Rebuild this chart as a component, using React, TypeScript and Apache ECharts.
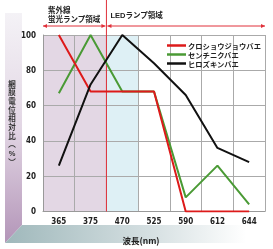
import React, { useEffect, useRef } from "react";
import * as echarts from "echarts";

const categories = ["365", "375", "470", "525", "590", "612", "644"];
const kuroshojo = [100, 68, 68, 68, 0, 0, 0];
const senchiniku = [67, 100, 68, 68, 8, 26, 4];
const hirozukin = [26, 72, 100, 84, 66, 36, 28];
const seriesNames = ["クロショウジョウバエ", "センチニクバエ", "ヒロズキンバエ"];
const yTicks = [0, 20, 40, 60, 80, 100];
const yTitleChars = ["網", "膜", "電", "位", "相", "対", "比", "︵", "%", "︶"];

const CJK = "'Noto Sans CJK JP', sans-serif";
const TIGHT = "'Liberation Sans', 'Noto Sans CJK JP', sans-serif";
const NUM = "'DejaVu Sans Condensed', 'Liberation Sans', sans-serif";

export default function App() {
  const ref = useRef<HTMLDivElement>(null);
  useEffect(() => {
    if (!ref.current) return;
    const chart = echarts.init(ref.current, undefined, { renderer: "svg" });
    const W = 273;
    const option: any = {
      animation: false,
      grid: { left: 43, right: 8, top: 35, bottom: 37 },
      legend: {
        left: 167,
        top: 41,
        orient: "vertical",
        icon: "rect",
        itemGap: 0,
        itemWidth: 19,
        itemHeight: 2.5,
        padding: 0,
        data: seriesNames,
        textStyle: { fontFamily: CJK, fontSize: 7.3, lineHeight: 9, fontWeight: "bold", color: "#222", padding: [0, 0, 0, -3] },
      },
      xAxis: {
        type: "category",
        data: categories,
        boundaryGap: true,
        name: "波長(nm)",
        nameLocation: "middle",
        nameGap: 24,
        nameTextStyle: { fontFamily: CJK, fontSize: 8.5, fontWeight: "bold", color: "#222", padding: [0, 26, 0, 0] },
        axisLine: { lineStyle: { color: "#999" } },
        axisTick: { show: false },
        axisLabel: { fontFamily: NUM, fontSize: 8, fontWeight: "bold", color: "#222", margin: 6 },
        splitLine: { show: true, lineStyle: { color: "#aaa", width: 1 } },
      },
      yAxis: {
        type: "value",
        min: 0,
        max: 100,
        interval: 20,
        axisLine: { show: true, lineStyle: { color: "#999" } },
        axisTick: { show: false },
        axisLabel: {
          fontFamily: NUM,
          fontSize: 8,
          fontWeight: "bold",
          color: "#222",
          margin: 7,
          formatter: (v: number) => (yTicks.includes(v) ? String(v) : ""),
        },
        splitLine: { show: true, lineStyle: { color: "#aaa", width: 1 } },
      },
      series: [
        { name: seriesNames[0], type: "line", data: kuroshojo, showSymbol: false, symbol: "none", z: 4, lineStyle: { color: "#dd1a1a", width: 2 }, itemStyle: { color: "#dd1a1a" } },
        { name: seriesNames[1], type: "line", data: senchiniku, showSymbol: false, symbol: "none", z: 3, lineStyle: { color: "#4a9a35", width: 2 }, itemStyle: { color: "#4a9a35" } },
        { name: seriesNames[2], type: "line", data: hirozukin, showSymbol: false, symbol: "none", z: 5, lineStyle: { color: "#111", width: 2 }, itemStyle: { color: "#111" } },
      ],
    };
    chart.setOption(option);

    const cx = (c: string) => chart.convertToPixel({ xAxisIndex: 0 }, c) as number;
    const y0 = chart.convertToPixel({ yAxisIndex: 0 }, 0) as number;
    const y100 = chart.convertToPixel({ yAxisIndex: 0 }, 100) as number;
    const band = cx(categories[1]) - cx(categories[0]);
    const left = cx(categories[0]) - band / 2;
    const b1 = cx(categories[1]) + band / 2;
    const b2 = cx(categories[2]) + band / 2;
    const right = cx(categories[categories.length - 1]) + band / 2;
    const arrowY = 26;
    const red = "#e0303a";
    const arrow = (x: number, dir: number) => ({
      type: "polygon",
      shape: { points: [[x, arrowY], [x - dir * 4, arrowY - 2], [x - dir * 4, arrowY + 2]] },
      style: { fill: red },
      z: 10,
    });

    const step = 8.7;
    const titleTop = (y0 + y100) / 2 - (step * yTitleChars.length) / 2 + step / 2;
    const titleEls = yTitleChars.map((ch, i) => ({
      type: "text",
      z: 10,
      x: 12,
      y: titleTop + i * step,
      style: {
        text: ch,
        fill: "#333",
        font: `bold 7.5px ${TIGHT}`,
        align: "center",
        verticalAlign: "middle",
      },
    }));

    chart.setOption({
      graphic: [
        {
          type: "polygon",
          z: -20,
          shape: { points: [[5, 13], [22, 13], [22, 225], [5, 243]] },
          style: {
            fill: new echarts.graphic.LinearGradient(0, 0, 0, 1, [
              { offset: 0, color: "#f4f2f6" },
              { offset: 0.5, color: "#e2d6e4" },
              { offset: 1, color: "#b395b8" },
            ]),
          },
        },
        {
          type: "polygon",
          z: -20,
          shape: { points: [[22, 225], [W, 225], [W, 243], [5, 243]] },
          style: {
            fill: new echarts.graphic.LinearGradient(0, 0, 1, 0, [
              { offset: 0, color: "#9fb8bb" },
              { offset: 0.55, color: "#d6e0e2" },
              { offset: 0.9, color: "#ffffff" },
            ]),
          },
        },
        {
          type: "rect",
          z: -10,
          shape: { x: left, y: y100, width: b1 - left, height: y0 - y100 },
          style: { fill: "#e3d7e4" },
        },
        {
          type: "rect",
          z: -10,
          shape: { x: b1, y: y100, width: b2 - b1, height: y0 - y100 },
          style: { fill: "#def0f5" },
        },
        {
          type: "line",
          z: 1,
          shape: { x1: b1, y1: 0, x2: b1, y2: y0 },
          style: { stroke: red, lineWidth: 1 },
        },
        {
          type: "line",
          z: 10,
          shape: { x1: left, y1: arrowY, x2: b1 - 1, y2: arrowY },
          style: { stroke: red, lineWidth: 1 },
        },
        arrow(left, -1),
        arrow(b1 - 1, 1),
        {
          type: "line",
          z: 10,
          shape: { x1: b1 + 1, y1: arrowY, x2: right, y2: arrowY },
          style: { stroke: red, lineWidth: 1 },
        },
        arrow(b1 + 1, -1),
        arrow(right, 1),
        {
          type: "text",
          z: 10,
          x: 48,
          y: 10,
          style: { text: "紫外線", fill: "#222", font: `bold 7.5px ${TIGHT}`, verticalAlign: "middle" },
        },
        {
          type: "text",
          z: 10,
          x: 48,
          y: 19.2,
          style: { text: "蛍光ランプ領域", fill: "#222", font: `bold 7.5px ${TIGHT}`, verticalAlign: "middle" },
        },
        {
          type: "text",
          z: 10,
          x: b1 + 4,
          y: 15,
          style: { text: "LEDランプ領域", fill: "#222", font: `bold 7.5px ${TIGHT}`, verticalAlign: "middle" },
        },
        ...titleEls,
      ],
    });

    return () => chart.dispose();
  }, []);
  return <div ref={ref} style={{ position: "fixed", left: 0, top: 0, width: 273, height: 249 }} />;
}
